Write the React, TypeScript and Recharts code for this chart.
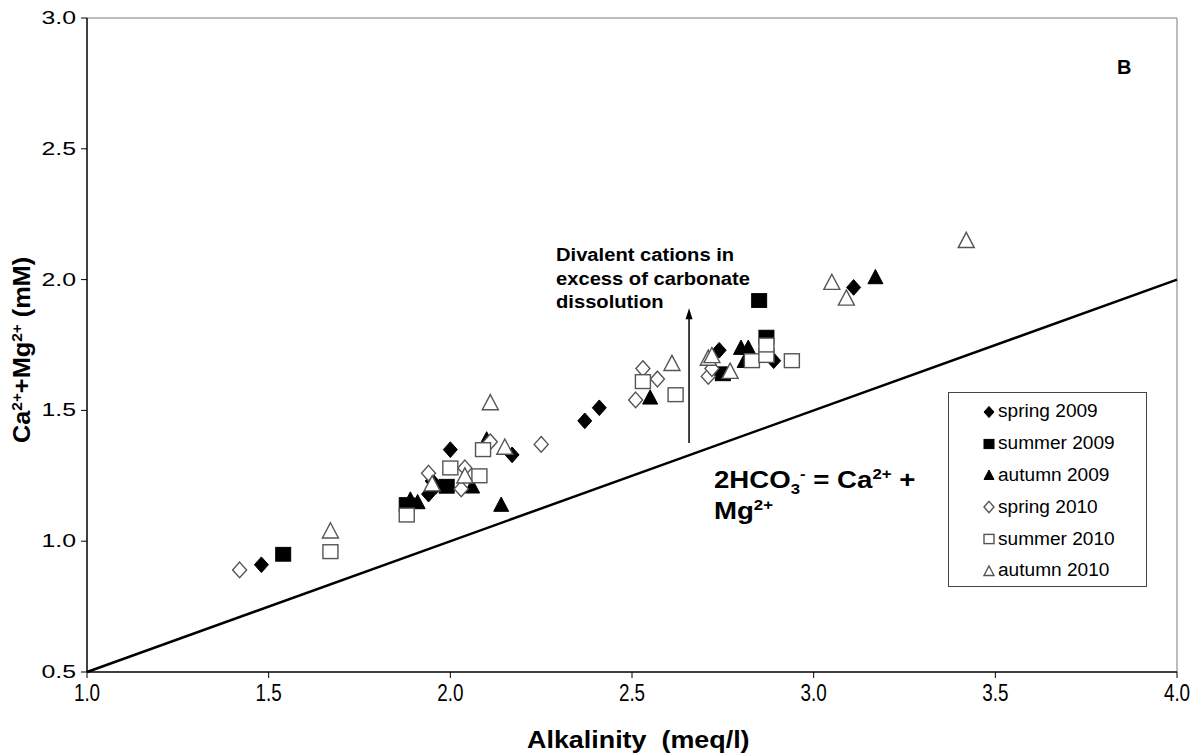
import {
  ScatterChart,
  Scatter,
  XAxis,
  YAxis,
  ReferenceLine,
  ReferenceDot,
  Legend,
} from 'recharts';

interface Pt {
  x: number;
  y: number;
}

// values
const spring2009: Pt[] = [
  { x: 1.48, y: 0.91 }, { x: 1.94, y: 1.18 }, { x: 1.95, y: 1.23 }, { x: 1.96, y: 1.21 },
  { x: 2.0, y: 1.35 }, { x: 2.17, y: 1.33 }, { x: 2.37, y: 1.46 }, { x: 2.41, y: 1.51 },
  { x: 2.74, y: 1.73 }, { x: 2.89, y: 1.69 }, { x: 3.11, y: 1.97 },
];
const summer2009: Pt[] = [
  { x: 1.54, y: 0.95 }, { x: 1.88, y: 1.14 }, { x: 1.99, y: 1.21 },
  { x: 2.75, y: 1.64 }, { x: 2.87, y: 1.78 }, { x: 2.85, y: 1.92 },
];
const autumn2009: Pt[] = [
  { x: 1.89, y: 1.16 }, { x: 1.91, y: 1.15 }, { x: 2.06, y: 1.21 }, { x: 2.1, y: 1.39 },
  { x: 2.14, y: 1.14 }, { x: 2.55, y: 1.55 }, { x: 2.8, y: 1.74 }, { x: 2.82, y: 1.74 },
  { x: 2.81, y: 1.69 }, { x: 3.17, y: 2.01 },
];
const spring2010: Pt[] = [
  { x: 1.42, y: 0.89 }, { x: 1.94, y: 1.26 }, { x: 2.03, y: 1.2 }, { x: 2.04, y: 1.28 },
  { x: 2.11, y: 1.38 }, { x: 2.25, y: 1.37 }, { x: 2.51, y: 1.54 }, { x: 2.53, y: 1.66 },
  { x: 2.57, y: 1.62 }, { x: 2.71, y: 1.63 }, { x: 2.72, y: 1.66 },
];
const summer2010: Pt[] = [
  { x: 1.67, y: 0.96 }, { x: 1.88, y: 1.1 }, { x: 2.0, y: 1.28 }, { x: 2.08, y: 1.25 },
  { x: 2.09, y: 1.35 }, { x: 2.53, y: 1.61 }, { x: 2.62, y: 1.56 }, { x: 2.83, y: 1.69 },
  { x: 2.87, y: 1.71 }, { x: 2.87, y: 1.75 }, { x: 2.94, y: 1.69 },
];
const autumn2010: Pt[] = [
  { x: 1.67, y: 1.04 }, { x: 1.95, y: 1.22 }, { x: 2.04, y: 1.25 }, { x: 2.11, y: 1.53 },
  { x: 2.15, y: 1.36 }, { x: 2.61, y: 1.68 }, { x: 2.71, y: 1.7 }, { x: 2.72, y: 1.71 },
  { x: 2.77, y: 1.65 }, { x: 3.05, y: 1.99 }, { x: 3.09, y: 1.93 }, { x: 3.42, y: 2.15 },
];

const xTicks = [1.0, 1.5, 2.0, 2.5, 3.0, 3.5, 4.0];
const yTicks = [0.5, 1.0, 1.5, 2.0, 2.5, 3.0];

// 1:1 line 2HCO3- = Ca2+ + Mg2+
const stoichLine = [{ x: 1, y: 0.5 }, { x: 4, y: 2 }];
// arrow "divalent cations in excess"
const arrowLine = [{ x: 2.657, y: 1.375 }, { x: 2.657, y: 1.86 }];

const FONT = '"Liberation Sans", Arial, sans-serif';
const OPEN = '#555';

type Kind = 'diamond' | 'square' | 'triangle';

function marker(kind: Kind, filled: boolean, cx: number, cy: number, s: number) {
  const fill = filled ? '#000' : '#fff';
  const stroke = filled ? '#000' : OPEN;
  const sw = filled ? 1 : 1.4;
  if (kind === 'diamond') {
    const w = s * 0.5, h = s * 0.56;
    return <polygon points={`${cx},${cy - h} ${cx + w},${cy} ${cx},${cy + h} ${cx - w},${cy}`} fill={fill} stroke={stroke} strokeWidth={sw} />;
  }
  if (kind === 'square') {
    const h = s * 0.5;
    return <rect x={cx - h} y={cy - h * 0.92} width={2 * h} height={2 * h * 0.92} fill={fill} stroke={stroke} strokeWidth={sw} />;
  }
  const h = s * 0.5;
  return <polygon points={`${cx},${cy - h} ${cx + h},${cy + h * 0.9} ${cx - h},${cy + h * 0.9}`} fill={fill} stroke={stroke} strokeWidth={sw} />;
}

const series = [
  { name: 'spring 2009', data: spring2009, kind: 'diamond' as Kind, filled: true, size: 14 },
  { name: 'summer 2009', data: summer2009, kind: 'square' as Kind, filled: true, size: 15 },
  { name: 'autumn 2009', data: autumn2009, kind: 'triangle' as Kind, filled: true, size: 15 },
  { name: 'spring 2010', data: spring2010, kind: 'diamond' as Kind, filled: false, size: 14 },
  { name: 'summer 2010', data: summer2010, kind: 'square' as Kind, filled: false, size: 15 },
  { name: 'autumn 2010', data: autumn2010, kind: 'triangle' as Kind, filled: false, size: 16 },
];

const XTick = (props: any) => {
  const { x, y, payload } = props;
  return (
    <text transform={`translate(${x},${y + 21}) scale(0.82,1)`} textAnchor="middle" fontFamily={FONT} fontSize={23} fill="#000">
      {Number(payload.value).toFixed(1)}
    </text>
  );
};

const YTick = (props: any) => {
  const { x, y, payload } = props;
  return (
    <text transform={`translate(${x - 3},${y + 6}) scale(1.38,1)`} textAnchor="end" fontFamily={FONT} fontSize={18} fill="#000">
      {Number(payload.value).toFixed(1)}
    </text>
  );
};

const LegendBox = () => (
  <div
    style={{
      width: 199,
      height: 195,
      border: '1px solid #444',
      background: '#fff',
      boxSizing: 'border-box',
      paddingTop: 3,
      fontFamily: FONT,
      fontSize: 18,
    }}
  >
    {series.map((s) => (
      <div key={s.name} style={{ height: 31.8, display: 'flex', alignItems: 'center', paddingLeft: 33 }}>
        <svg width={14} height={14} style={{ marginRight: 2 }}>
          {marker(s.kind, s.filled, 7, 7, 10)}
        </svg>
        <span style={{ display: 'inline-block', transform: 'scale(1.06,1)', transformOrigin: 'left center' }}>{s.name}</span>
      </div>
    ))}
  </div>
);

const supStyle = { fontSize: 14, lineHeight: 0 };

export default function App() {
  return (
    <div style={{ position: 'absolute', left: 0, top: 0, width: 1202, height: 756, background: '#fff' }}>
      <ScatterChart width={1202} height={756} margin={{ top: 18, right: 25, bottom: 54, left: 27 }}>
        <XAxis
          type="number"
          dataKey="x"
          domain={[1, 4]}
          ticks={xTicks}
          tick={<XTick />}
          tickSize={6}
          height={30}
          axisLine={{ stroke: '#000', strokeWidth: 1.5 }}
          tickLine={{ stroke: '#000' }}
        />
        <YAxis
          type="number"
          dataKey="y"
          domain={[0.5, 3]}
          ticks={yTicks}
          tick={<YTick />}
          tickSize={6}
          width={60}
          axisLine={{ stroke: '#000', strokeWidth: 1.5 }}
          tickLine={{ stroke: '#000' }}
        />
        <ReferenceLine y={3} stroke="#a6a6a6" strokeWidth={1.5} />
        <ReferenceLine x={4} stroke="#a6a6a6" strokeWidth={1.5} />
        <ReferenceLine segment={stoichLine} stroke="#000" strokeWidth={2.5} />
        <ReferenceLine segment={arrowLine} stroke="#000" strokeWidth={1.5} />
        <ReferenceDot
          x={arrowLine[1].x}
          y={arrowLine[1].y}
          shape={(p: any) => (
            <polygon points={`${p.cx},${p.cy - 8} ${p.cx + 3.5},${p.cy + 3} ${p.cx - 3.5},${p.cy + 3}`} fill="#000" />
          )}
        />
        {series.map((s) => (
          <Scatter
            key={s.name}
            name={s.name}
            data={s.data}
            isAnimationActive={false}
            shape={(p: any) => marker(s.kind, s.filled, p.cx, p.cy, s.size)}
          />
        ))}
        <Legend
          layout="vertical"
          align="center"
          verticalAlign="middle"
          content={<LegendBox />}
          wrapperStyle={{ left: 948, top: 392, width: 199, height: 195 }}
        />
      </ScatterChart>

      {/* y axis title */}
      <svg width={60} height={756} style={{ position: 'absolute', left: 0, top: 0, pointerEvents: 'none' }}>
        <text
          transform="translate(30,443) rotate(-90) scale(1.1,1)"
          textAnchor="start"
          fontFamily={FONT}
          fontWeight="bold"
          fontSize={23}
          fill="#000"
        >
          Ca
          <tspan dy={-8} fontSize={14}>2+</tspan>
          <tspan dy={8}>+Mg</tspan>
          <tspan dy={-8} fontSize={14}>2+</tspan>
          <tspan dy={8}> (mM)</tspan>
        </text>
      </svg>

      <div
        style={{
          position: 'absolute',
          left: 527,
          top: 726,
          transform: 'scale(1.12,1)',
          transformOrigin: 'left top',
          whiteSpace: 'pre',
          fontFamily: FONT,
          fontWeight: 'bold',
          fontSize: 24,
          lineHeight: '28px',
        }}
      >
        {'Alkalinity  (meq/l)'}
      </div>

      <div
        style={{
          position: 'absolute',
          left: 556,
          top: 244,
          transform: 'scale(1.12,1)',
          transformOrigin: 'left top',
          whiteSpace: 'nowrap',
          fontFamily: FONT,
          fontWeight: 'bold',
          fontSize: 18,
          lineHeight: '23.5px',
        }}
      >
        Divalent cations in
        <br />
        excess of carbonate
        <br />
        dissolution
      </div>

      <div
        style={{
          position: 'absolute',
          left: 714,
          top: 465,
          transform: 'scale(1.2,1)',
          transformOrigin: 'left top',
          whiteSpace: 'nowrap',
          fontFamily: FONT,
          fontWeight: 'bold',
          fontSize: 23,
          lineHeight: '31px',
        }}
      >
        2HCO<sub style={supStyle}>3</sub>
        <sup style={supStyle}>-</sup> = Ca<sup style={supStyle}>2+</sup> +
        <br />
        Mg<sup style={supStyle}>2+</sup>
      </div>

      <div
        style={{
          position: 'absolute',
          left: 1117,
          top: 56,
          fontFamily: FONT,
          fontWeight: 'bold',
          fontSize: 20,
        }}
      >
        B
      </div>
    </div>
  );
}
